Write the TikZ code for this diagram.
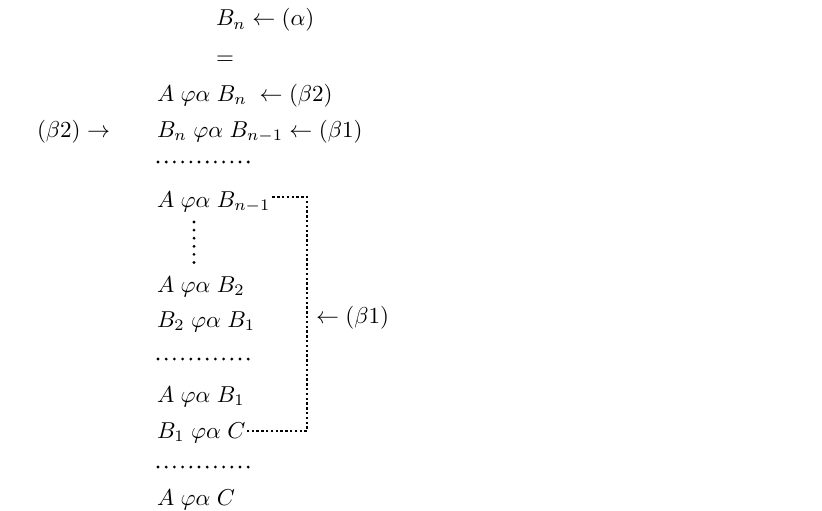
\documentclass[tikz,border=0pt]{standalone}
\usetikzlibrary{calc}
\begin{document}
\begin{tikzpicture}[x=1pt,y=-1pt,
  txt/.style={inner sep=0pt, outer sep=0pt, anchor=base west, scale=2.3, transform shape},
  dotrow/.style={line width=3.1pt, line cap=round, dash pattern=on 0pt off 8.2pt},
  conn/.style={line width=2.6pt, dash pattern=on 2.4pt off 2.4pt}]
\useasboundingbox (0,0) rectangle (822,511);
\node[txt] (r1) at (216,26) {$B_n \leftarrow (\alpha)$};
\node[txt, anchor=base] (r2) at (225,64) {$=$};
\node[txt] (r3) at (157,101) {$A\;\varphi\alpha\;B_n \;\leftarrow (\beta2)$};
\node[txt] (r4l) at (37,137) {$(\beta2) \rightarrow$};
\node[txt] (r4) at (157,137) {$B_n\;\varphi\alpha\;B_{n-1} \leftarrow (\beta1)$};
\node[txt] (r5) at (157,207) {$A\;\varphi\alpha\;B_{n-1}$};
\node[txt] (r6) at (157,292) {$A\;\varphi\alpha\;B_2$};
\node[txt] (r7) at (157,327) {$B_2\;\varphi\alpha\;B_1$};
\node[txt] (r8) at (157,402) {$A\;\varphi\alpha\;B_1$};
\node[txt] (r9) at (157,438) {$B_1\;\varphi\alpha\;C$};
\node[txt] (r10) at (157,505) {$A\;\varphi\alpha\;C$};
\node[txt] (lab) at (316,323) {$\leftarrow (\beta1)$};
% dot rows
\coordinate (d1a) at (158,162); \coordinate (d1b) at (249,162);
\coordinate (d2a) at (158,359); \coordinate (d2b) at (249,359);
\coordinate (d3a) at (158,467); \coordinate (d3b) at (249,467);
\draw[dotrow] (d1a) -- (d1b);
\draw[dotrow] (d2a) -- (d2b);
\draw[dotrow] (d3a) -- (d3b);
% vertical ellipsis
\coordinate (va) at (194,222); \coordinate (vb) at (194,263);
\draw[dotrow, dash pattern=on 0pt off 8.1pt] (va) -- (vb);
% connector
\coordinate (ca) at ($(r5.base east)+(2,-10)$);
\coordinate (cb) at ($(r9.base east)+(2,-7)$);
\coordinate (vx) at (307,0);
\draw[conn] (ca) -- (ca -| vx) -- (cb -| vx) -- (cb);
\end{tikzpicture}
\end{document}
